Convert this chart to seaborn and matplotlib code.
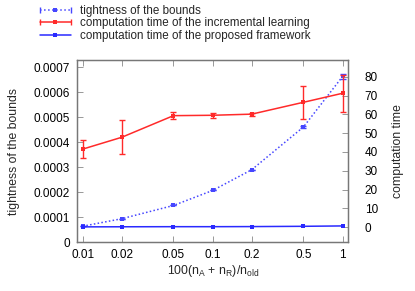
import seaborn as sns
import matplotlib.pyplot as plt
import matplotlib.ticker as mticker
from matplotlib.lines import Line2D
from matplotlib.legend_handler import HandlerBase
import pandas as pd
import numpy as np

ratio = [0.01, 0.02, 0.05, 0.1, 0.2, 0.5, 1]
tightness = [0.000065, 0.000095, 0.000148, 0.000208, 0.000291, 0.000462, 0.000664]
tightness_err = [0, 0, 0, 0, 0, 0.000005, 0.00001]
time_incremental = [41.5, 47.8, 59.3, 59.5, 60.1, 66.4, 71.2]
time_incremental_err = [4.9, 9.0, 1.7, 1.2, 0.8, 8.7, 9.8]
time_proposed = [0.2, 0.25, 0.3, 0.3, 0.35, 0.5, 0.7]
x_ticks = [0.01, 0.02, 0.05, 0.1, 0.2, 0.5, 1]
x_ticklabels = ["0.01", "0.02", "0.05", "0.1", "0.2", "0.5", "1"]
labels = ["tightness of the bounds",
          "computation time of the incremental learning",
          "computation time of the proposed framework"]

df = pd.DataFrame({"ratio": ratio, "tightness": tightness,
                   "incremental": time_incremental, "proposed": time_proposed})

sns.set_theme(style="ticks", rc={"font.size": 8.5, "xtick.labelsize": 8.5,
                                 "ytick.labelsize": 8.5, "axes.labelsize": 8.8,
                                 "legend.fontsize": 8.4})
plt.rcParams['font.family'] = ['Liberation Sans', 'DejaVu Sans']
plt.rcParams['mathtext.default'] = 'regular'

BLUE_DOT = "#4646ff"
RED = "#ff2a2a"
BLUE = "#2a2aff"
DOTTED = (0, (1, 1.5))

fig = plt.figure(figsize=(4.15, 2.91), dpi=100)
ax = fig.add_axes([0.186, 0.1667, 0.653, 0.6273])
ax2 = ax.twinx()

# tightness on left axis
sns.lineplot(data=df, x="ratio", y="tightness", ax=ax, color=BLUE_DOT,
             linestyle=DOTTED, lw=1.1, marker="s", markersize=3,
             markeredgewidth=0)
ax.errorbar(ratio, tightness, yerr=tightness_err, fmt="none",
            ecolor=BLUE_DOT, elinewidth=0.8, capsize=2)

# computation times on right axis
sns.lineplot(data=df, x="ratio", y="incremental", ax=ax2, color=RED,
             lw=1.1, marker="s", markersize=2.5, markeredgewidth=0)
ax2.errorbar(ratio, time_incremental, yerr=time_incremental_err, fmt="none",
             ecolor=RED, elinewidth=1, capsize=2.5)
sns.lineplot(data=df, x="ratio", y="proposed", ax=ax2, color=BLUE,
             lw=1.1, marker="s", markersize=2.5, markeredgewidth=0)

ax.set_xscale("log")
ax.set_xlim(10 ** -2.0415, 10 ** 0.043)
ax.set_ylim(0, 0.00073)
ax2.set_ylim(-8.1, 88.9)
ax.set_xticks(x_ticks)
ax.set_xticklabels(x_ticklabels)
ax.xaxis.set_minor_locator(mticker.NullLocator())
ax.set_yticks(np.arange(0, 0.00071, 0.0001))
ax.set_yticklabels(["0"] + ["%.4f" % v for v in np.arange(0.0001, 0.00071, 0.0001)])
ax2.set_yticks(range(0, 81, 10))

ax.tick_params(axis="x", direction="in", top=True, length=4, width=0.6, pad=5,
               colors="#888888", labelcolor="black")
ax.tick_params(axis="y", direction="in", length=4, width=0.6, pad=5,
               colors="#888888", labelcolor="black")
ax2.tick_params(axis="y", direction="in", length=4, width=0.6, pad=12,
                colors="#888888", labelcolor="black")
for a in (ax, ax2):
    for s in a.spines.values():
        s.set_color("#777777")
        s.set_linewidth(0.9)

ax.set_xlabel("100(n$_A$ + n$_R$)/n$_{old}$", labelpad=1)
ax.set_ylabel("tightness of the bounds", labelpad=10)
ax2.set_ylabel("computation time", labelpad=10)


class GnuplotKey(HandlerBase):
    # horizontal line, point in the middle, optional error-bar caps at the ends
    def __init__(self, caps):
        super().__init__()
        self.caps = caps

    def create_artists(self, legend, orig, xd, yd, w, h, fs, trans):
        y = h / 2 - yd
        x0, x1 = -xd, -xd + w
        c = orig.get_color()
        arts = [Line2D([x0, x1], [y, y], color=c, linestyle=orig.get_linestyle(), lw=1.1),
                Line2D([(x0 + x1) / 2], [y], color=c, marker="s", markersize=2.5,
                       markeredgewidth=0, linestyle="none")]
        if self.caps:
            arts.append(Line2D([x0, x1], [y, y], color=c, marker="|", markersize=5,
                               markeredgewidth=1, linestyle="none"))
        for a in arts:
            a.set_transform(trans)
        return arts


key_b = Line2D([], [], color=BLUE_DOT, linestyle=":")
key_r = Line2D([], [], color=RED)
key_p = Line2D([], [], color=BLUE)
fig.legend([key_b, key_r, key_p], labels, loc="upper left",
           bbox_to_anchor=(0.08, 1.008), frameon=False,
           handler_map={key_b: GnuplotKey(True), key_r: GnuplotKey(True),
                        key_p: GnuplotKey(False)},
           handlelength=2.6, handletextpad=0.8, labelspacing=0.05,
           borderaxespad=0.2)

fig.savefig("out.png", dpi=100)
